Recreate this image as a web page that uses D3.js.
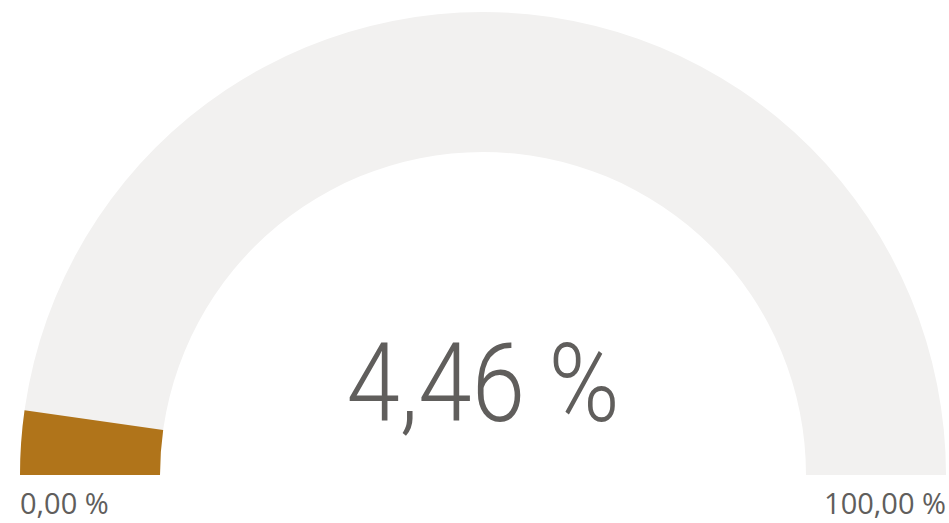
<!DOCTYPE html>
<html>
<head>
<meta charset="utf-8">
<script src="https://cdn.jsdelivr.net/npm/d3@7"></script>
<style>
  body { margin: 0; background: #fff; }
  svg { display: block; }
</style>
</head>
<body>
<svg id="gauge"></svg>
<script>
// gauge values (percent)
var minValue = [0]
var maxValue = [100]
var currentValue = [4.46]
var labels = ["0,00 %", "100,00 %", "4,46 %"]

var dimensions = {
    width: 949,
    height: 523,
    cx: 483,
    cy: 475,
    outer: 463,
    inner: 323
}

var svg = d3.select("#gauge")
    .attr("width", dimensions.width)
    .attr("height", dimensions.height)

var angle = d3.scaleLinear()
    .domain([minValue[0], maxValue[0]])
    .range([-Math.PI / 2, Math.PI / 2])

var arc = d3.arc()
    .innerRadius(dimensions.inner)
    .outerRadius(dimensions.outer)

var g = svg.append("g")
    .attr("transform", "translate(" + dimensions.cx + "," + dimensions.cy + ")")

// background track
g.append("path")
    .attr("d", arc({ startAngle: angle(minValue[0]), endAngle: angle(maxValue[0]) }))
    .attr("fill", "#F2F1F0")

// value
g.selectAll(".value")
    .data(currentValue)
    .enter()
    .append("path")
    .attr("class", "value")
    .attr("d", d => arc({ startAngle: angle(minValue[0]), endAngle: angle(d) }))
    .attr("fill", "#B0741A")

// min / max labels
svg.append("text")
    .attr("x", dimensions.cx - dimensions.outer)
    .attr("y", 514)
    .attr("font-family", "Open Sans, sans-serif")
    .attr("font-size", 29)
    .attr("fill", "#605E5C")
    .text(labels[0])

svg.append("text")
    .attr("x", dimensions.cx + dimensions.outer)
    .attr("y", 514)
    .attr("text-anchor", "end")
    .attr("font-family", "Open Sans, sans-serif")
    .attr("font-size", 29)
    .attr("fill", "#605E5C")
    .text(labels[1])

// callout
svg.append("text")
    .attr("x", dimensions.cx)
    .attr("y", 421)
    .attr("text-anchor", "middle")
    .attr("font-family", "Roboto, sans-serif")
    .attr("font-weight", 300)
    .attr("font-size", 110)
    .attr("textLength", 273)
    .attr("lengthAdjust", "spacingAndGlyphs")
    .attr("fill", "#605E5C")
    .text(labels[2])
</script>
</body>
</html>
